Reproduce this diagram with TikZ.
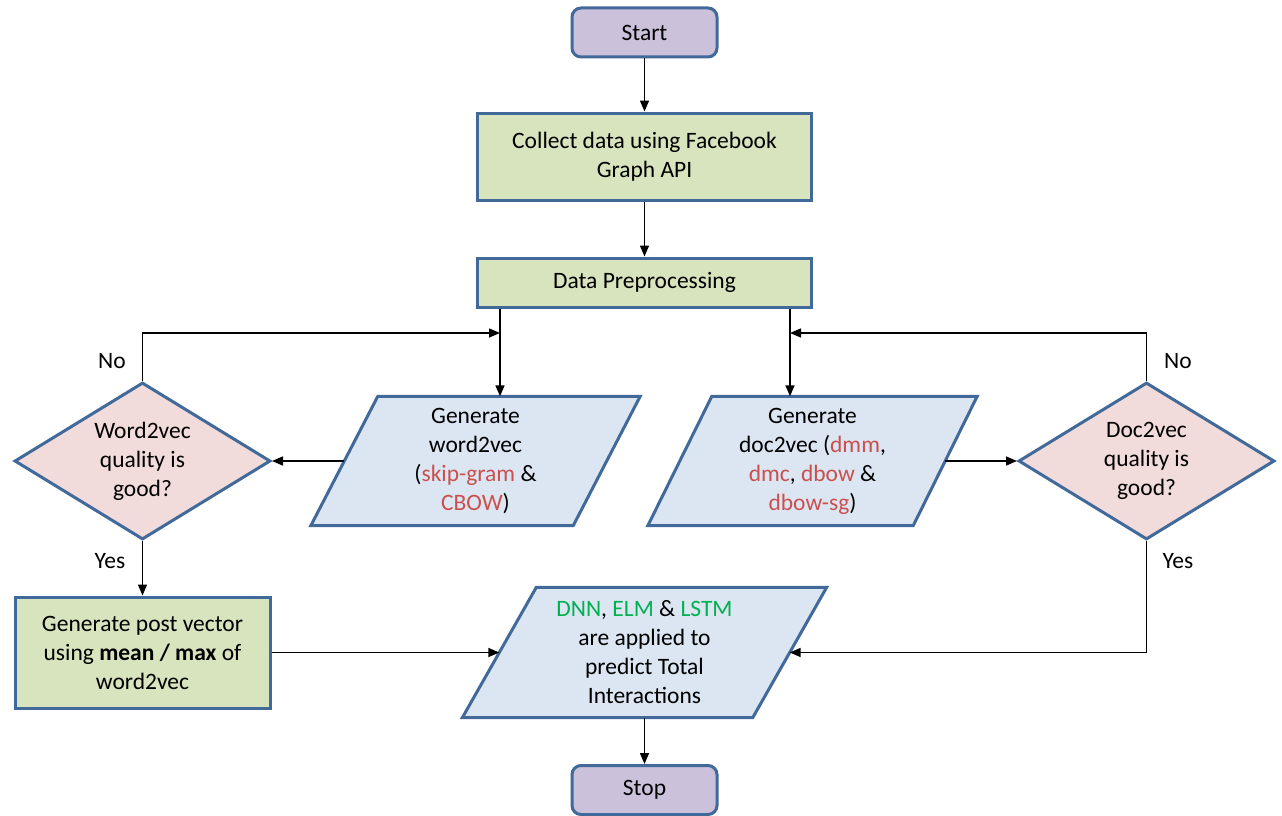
\documentclass[tikz,border=0pt]{standalone}
\usepackage{fontspec}
\setmainfont{Carlito}
\usetikzlibrary{shapes.geometric,arrows.meta,backgrounds}

\definecolor{edgeblue}{HTML}{41699A}
\definecolor{termfill}{HTML}{CCC1DA}
\definecolor{procfill}{HTML}{D7E4BD}
\definecolor{iofill}{HTML}{DCE6F2}
\definecolor{decfill}{HTML}{F2DCDB}
\definecolor{kwred}{HTML}{C9504D}
\definecolor{kwgreen}{HTML}{00B050}

\newcommand{\kr}[1]{\textcolor{kwred}{#1}}
\newcommand{\kg}[1]{\textcolor{kwgreen}{#1}}

% slanted input/output box drawn around a (borderless) text node
\newcommand{\slantbox}[2]{%
  \draw[edgeblue,line width=3pt,fill=iofill,line join=miter]
    ([xshift=#2]#1.north west) -- ([xshift=#2]#1.north east)
    -- ([xshift=-#2]#1.south east) -- ([xshift=-#2]#1.south west) -- cycle;}

\tikzset{
  base/.style={font=\fontsize{23.5}{29}\selectfont, align=center, inner sep=0pt},
  terminal/.style={base, draw=edgeblue, line width=3pt, fill=termfill,
    rounded corners=9pt, minimum width=145pt, minimum height=49pt},
  process/.style={base, draw=edgeblue, line width=3pt, fill=procfill},
  iobox/.style={base},
  decision/.style={base, diamond, draw=edgeblue, line width=3pt, fill=decfill,
    aspect=1.63, minimum width=256pt, minimum height=157pt},
  label/.style={base},
  conn/.style={line width=1.5pt, -{Triangle[length=11pt,width=9pt]}},
  plain/.style={line width=1.5pt}
}

\begin{document}
\begin{tikzpicture}[x=1pt,y=-1pt]
  \useasboundingbox (0,0) rectangle (1282,816);

  % main column
  \node[terminal] (start) at (644.5,32.5) {Start};
  \node[process, minimum width=334pt, minimum height=87pt] (collect) at (644.5,156.5)
    {Collect data using Facebook\\Graph API};
  \node[process, minimum width=334pt, minimum height=49pt] (prep) at (644.5,282.5)
    {Data Preprocessing};

  % embedding branches
  \node[iobox, minimum width=262pt, minimum height=129pt] (w2v) at (475.5,461)
    {Generate\\word2vec\\(\kr{skip-gram} \&\\\kr{CBOW})};
  \node[iobox, minimum width=265pt, minimum height=129pt] (d2v) at (812.5,461)
    {Generate\\doc2vec (\kr{dmm},\\\kr{dmc}, \kr{dbow} \&\\\kr{dbow-sg})};

  \node[decision] (wq) at (142.5,461) {Word2vec\\quality is\\good?};
  \node[decision] (dq) at (1146.5,461) {Doc2vec\\quality is\\good?};

  \node[process, minimum width=255pt, minimum height=111pt] (post) at (142.5,652.5)
    {Generate post vector\\using \textbf{mean / max} of\\word2vec};

  \node[iobox, minimum width=290pt, minimum height=130pt] (pred) at (644.5,652.5)
    {\kg{DNN}, \kg{ELM} \& \kg{LSTM}\\are applied to\\predict Total\\Interactions};

  \node[terminal] (stop) at (644.5,790) {Stop};

  \begin{scope}[on background layer]
    \slantbox{w2v}{33.5pt}
    \slantbox{d2v}{32pt}
    \slantbox{pred}{37pt}
  \end{scope}

  % branch labels
  \node[label] (wno)  at (112,361) {No};
  \node[label] (wyes) at (110,561) {Yes};
  \node[label] (dno)  at (1178,361) {No};
  \node[label] (dyes) at (1178,561) {Yes};

  % junction points on the feed lines
  \coordinate (wx) at (500,333);
  \coordinate (dx) at (790,333);

  % connectors
  \draw[conn] (start) -- (collect);
  \draw[conn] (collect) -- (prep);
  \draw[conn] (prep.south -| wx) -- (w2v.north -| wx);
  \draw[conn] (prep.south -| dx) -- (d2v.north -| dx);
  \draw[conn] (w2v.west) -- (wq.east);
  \draw[conn] (d2v.east) -- (dq.west);
  \draw[conn] (wq.north) |- (wx);
  \draw[conn] (dq.north) |- (dx);
  \draw[conn] (wq.south) -- (post.north);
  \draw[conn] (post.east) -- (post.east -| pred.west);
  \draw[conn] (dq.south) |- (pred.east);
  \draw[conn] (pred.south) -- (stop.north);
\end{tikzpicture}
\end{document}
